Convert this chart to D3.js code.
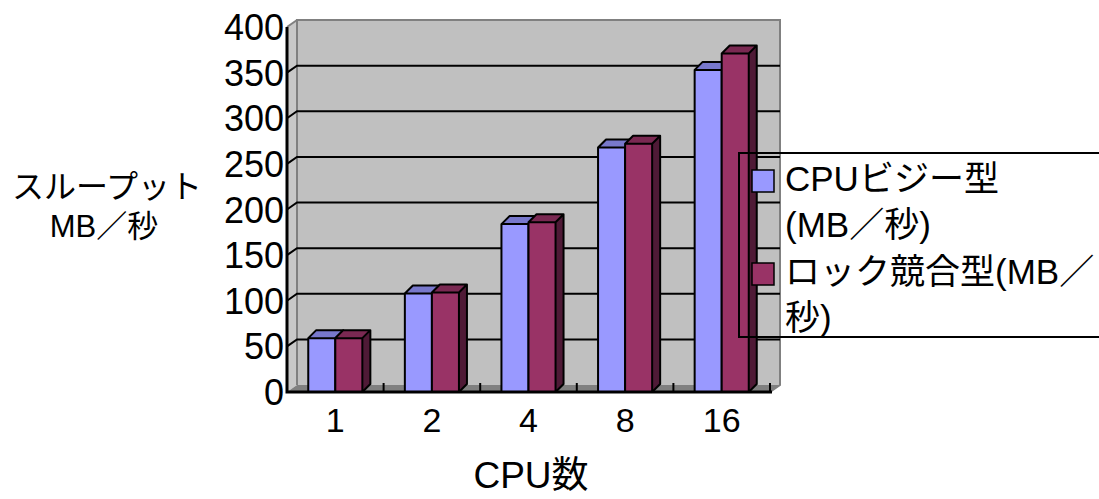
<!DOCTYPE html>
<html>
<head>
<meta charset="utf-8">
<script src="https://d3js.org/d3.v7.min.js"></script>
<style>
  body { margin: 0; background: #fff; }
  svg { display: block; font-family: "Liberation Sans", "Noto Sans CJK JP", sans-serif; }
</style>
</head>
<body>
<svg></svg>
<script>
  const categories = ['1', '2', '4', '8', '16']
  const seriesNames = ['CPUビジー型(MB／秒)', 'ロック競合型(MB／秒)']
  const cpuBusy = [59, 108, 184, 268, 353]
  const lockContention = [59, 109, 186, 272, 371]
  const yTicks = [0, 50, 100, 150, 200, 250, 300, 350, 400]

  const width = 1099, height = 499
  const depth = { dx: 10, dy: -7 }   // wall depth offset
  const barDepth = { dx: 8, dy: -8 } // bar depth offset

  const svg = d3.select('svg').attr('width', width).attr('height', height)

  const x = d3.scaleBand().domain(categories).range([287, 770])
  const xs = d3.scaleBand().domain([0, 1])
      .range([x.bandwidth() * 0.22, x.bandwidth() * 0.78])
  const y = d3.scaleLinear().domain([0, 400]).range([392, 27])

  const x0 = x.range()[0], x1 = x.range()[1]
  const yb = y(0), yt = y(400)

  // back wall
  svg.append('rect')
      .attr('x', x0 + depth.dx).attr('y', yt + depth.dy)
      .attr('width', x1 - x0).attr('height', yb - yt)
      .attr('fill', '#c0c0c0')
  // left side wall
  svg.append('path')
      .attr('d', `M${x0},${yt}L${x0 + depth.dx},${yt + depth.dy}L${x0 + depth.dx},${yb + depth.dy}L${x0},${yb}Z`)
      .attr('fill', '#c8c8c8')
  // floor
  svg.append('path')
      .attr('d', `M${x0},${yb}L${x0 + depth.dx},${yb + depth.dy}L${x1 + depth.dx},${yb + depth.dy}L${x1},${yb}Z`)
      .attr('fill', '#808080')
  // wall edges
  svg.append('path')
      .attr('d', `M${x0 + depth.dx},${yb + depth.dy}V${yt + depth.dy}H${x1 + depth.dx}V${yb + depth.dy}L${x1},${yb}`)
      .attr('fill', 'none').attr('stroke', '#808080').attr('stroke-width', 2)
  svg.append('path')
      .attr('d', `M${x0},${yt}L${x0 + depth.dx},${yt + depth.dy}`)
      .attr('fill', 'none').attr('stroke', '#808080').attr('stroke-width', 2)

  // gridlines on side and back wall
  svg.append('g').selectAll('path')
      .data(yTicks.filter(d => d > 0 && d < 400))
      .join('path')
      .attr('d', d => `M${x0},${y(d)}L${x0 + depth.dx},${y(d) + depth.dy}H${x1 + depth.dx}`)
      .attr('fill', 'none').attr('stroke', '#000').attr('stroke-width', 2)

  // category ticks on the floor
  svg.append('g').selectAll('line')
      .data(categories)
      .join('line')
      .attr('x1', d => x(d) + x.step()).attr('x2', d => x(d) + x.step())
      .attr('y1', yb).attr('y2', yb - 9)
      .attr('stroke', '#000').attr('stroke-width', 2)

  // bars
  const series = [
    { values: cpuBusy, front: '#9999ff', top: '#7878cc', side: '#5a5aa0' },
    { values: lockContention, front: '#993366', top: '#7a2952', side: '#4f1a36' }
  ]
  const bars = []
  categories.forEach((c, i) => {
    series.forEach((s, j) => {
      bars.push({ cat: c, s: j, v: s.values[i], col: s })
    })
  })
  const bar = svg.append('g').selectAll('g').data(bars).join('g')
  bar.each(function (d) {
    const g = d3.select(this)
    const bx = x(d.cat) + xs(d.s), bw = xs.bandwidth()
    const top = y(d.v), bot = y(0)
    const dx = barDepth.dx, dy = barDepth.dy
    g.append('path')
        .attr('d', `M${bx + bw},${bot}L${bx + bw + dx},${bot + dy}V${top + dy}L${bx + bw},${top}Z`)
        .attr('fill', d.col.side)
    g.append('path')
        .attr('d', `M${bx},${top}L${bx + dx},${top + dy}H${bx + bw + dx}L${bx + bw},${top}Z`)
        .attr('fill', d.col.top)
    g.append('rect')
        .attr('x', bx).attr('y', top).attr('width', bw).attr('height', bot - top)
        .attr('fill', d.col.front)
    g.append('path')
        .attr('d', `M${bx},${bot}V${top}L${bx + dx},${top + dy}H${bx + bw + dx}V${bot + dy}L${bx + bw},${bot}V${top}H${bx}M${bx + bw},${top}L${bx + bw + dx},${top + dy}`)
        .attr('fill', 'none').attr('stroke', '#000').attr('stroke-width', 2).attr('stroke-linejoin', 'round')
  })

  // front axes
  svg.append('path')
      .attr('d', `M${x0},${yt}V${yb}H${x1 + 2}`)
      .attr('fill', 'none').attr('stroke', '#000').attr('stroke-width', 3)

  // y tick labels
  svg.append('g').selectAll('text')
      .data(yTicks).join('text')
      .attr('x', 284).attr('y', d => y(d) + 13)
      .attr('text-anchor', 'end')
      .attr('font-size', 36)
      .text(d => d)

  // x tick labels
  svg.append('g').selectAll('text')
      .data(categories).join('text')
      .attr('x', d => x(d) + x.bandwidth() / 2).attr('y', 432)
      .attr('text-anchor', 'middle')
      .attr('font-size', 34)
      .text(d => d)

  // axis titles
  svg.append('text').attr('x', 107).attr('y', 198).attr('text-anchor', 'middle')
      .attr('font-size', 32).text('スループット')
  svg.append('text').attr('x', 104).attr('y', 237).attr('text-anchor', 'middle')
      .attr('font-size', 31).text('MB／秒')
  svg.append('text').attr('x', 531).attr('y', 488).attr('text-anchor', 'middle')
      .attr('font-size', 37).text('CPU数')

  // legend
  const legend = svg.append('g')
  legend.append('rect')
      .attr('x', 739).attr('y', 153).attr('width', 420).attr('height', 184)
      .attr('fill', 'none').attr('stroke', '#000').attr('stroke-width', 2)
  const legendLines = [
    ['CPUビジー型', '(MB／秒)'],
    ['ロック競合型(MB／', '秒)']
  ]
  legendLines.forEach((lines, i) => {
    const ly = 170 + i * 93
    legend.append('rect')
        .attr('x', 752).attr('y', ly).attr('width', 22).attr('height', 22)
        .attr('fill', series[i].front).attr('stroke', '#000').attr('stroke-width', 1.5)
    lines.forEach((t, k) => {
      legend.append('text')
          .attr('x', 785).attr('y', ly + 21 + k * 46)
          .attr('font-size', 35)
          .text(t)
    })
  })
</script>
</body>
</html>
